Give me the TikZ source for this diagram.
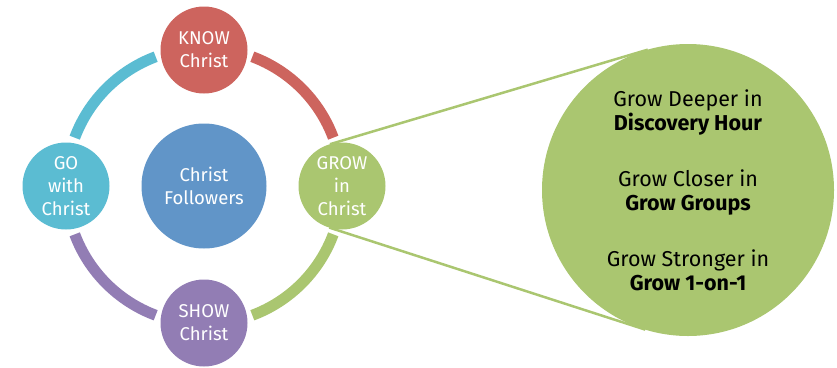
\documentclass[tikz,border=0pt]{standalone}
\usepackage{fontspec}
\setmainfont{Fira Sans}
\usetikzlibrary{calc}
\definecolor{knowred}{RGB}{205,100,94}
\definecolor{growgreen}{RGB}{170,198,112}
\definecolor{showpurple}{RGB}{146,125,180}
\definecolor{gocyan}{RGB}{91,188,210}
\definecolor{coreblue}{RGB}{97,149,200}
\tikzset{
  x=1pt, y=1pt,
  stage/.style={circle, minimum size=87pt, inner sep=0pt, outer sep=0pt, text=white, align=center,
    font=\fontsize{18.5}{23}\selectfont},
  ringarc/.style={line width=11pt},
  zoomline/.style={draw=growgreen, line width=2.5pt},
}
\begin{document}
\begin{tikzpicture}
\useasboundingbox (0,0) rectangle (837,-367);
\coordinate (c) at (204,-186);
% ring arcs
\draw[ringarc, knowred] ($(c)+(69.5:138pt)$) arc[start angle=69.5, end angle=20.5, radius=138pt];
\draw[ringarc, growgreen] ($(c)+(-20.5:138pt)$) arc[start angle=-20.5, end angle=-69.5, radius=138pt];
\draw[ringarc, showpurple] ($(c)+(-110.5:138pt)$) arc[start angle=-110.5, end angle=-159.5, radius=138pt];
\draw[ringarc, gocyan] ($(c)+(159.5:138pt)$) arc[start angle=159.5, end angle=110.5, radius=138pt];
% nodes
\node[stage, fill=knowred] (know) at (204,-50) {KNOW\\Christ};
\node[stage, fill=growgreen] (grow) at (342,-186) {GROW\\in\\Christ};
\node[stage, fill=showpurple] (show) at (204,-323) {SHOW\\Christ};
\node[stage, fill=gocyan] (go) at (66,-186) {GO\\with\\Christ};
\node[stage, fill=coreblue, minimum size=125pt] (core) at (c) {Christ\\Followers};
\node[circle, fill=growgreen, minimum size=292pt, inner sep=0pt, outer sep=0pt, align=center,
  font=\fontsize{21.5}{24}\selectfont] (big) at (688,-190)
  {Grow Deeper in\\\textbf{Discovery Hour}\\[32pt]Grow Closer in\\\textbf{Grow Groups}\\[32pt]Grow Stronger in\\\textbf{Grow 1-on-1}};
\draw[zoomline] (grow.106.3) -- (big.106.3);
\draw[zoomline] (grow.-107.3) -- (big.-107.3);
\end{tikzpicture}
\end{document}
